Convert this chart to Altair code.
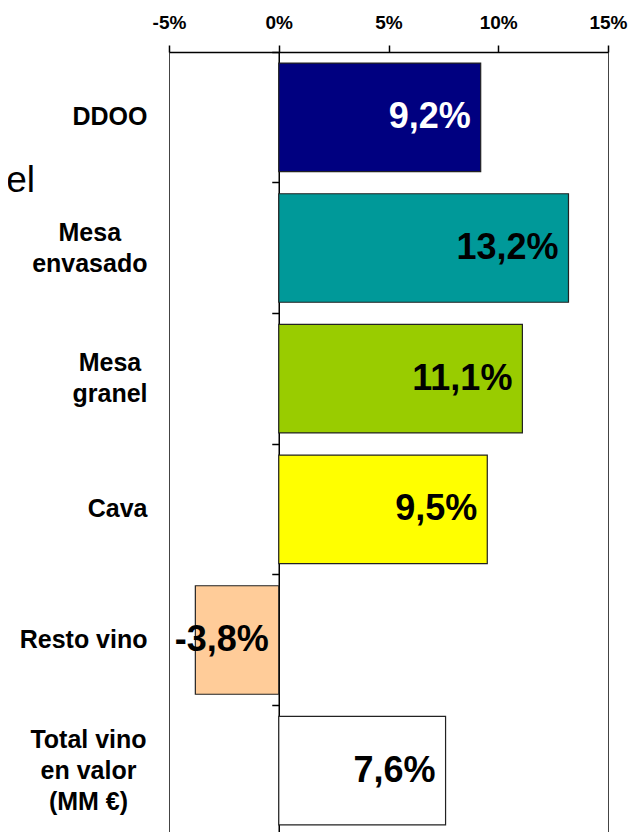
import altair as alt
import pandas as pd

categories = ["DDOO", "Mesa envasado", "Mesa granel", "Cava", "Resto vino",
              "Total vino en valor (MM €)"]
label_lines = [["DDOO"], ["Mesa", "envasado"], ["Mesa", "granel"], ["Cava"],
               ["Resto vino"], ["Total vino", "en valor", "(MM €)"]]
values = [9.2, 13.2, 11.1, 9.5, -3.8, 7.6]
bar_colors = ["#000080", "#009999", "#99CC00", "#FFFF00", "#FFCC99", "#FFFFFF"]
x_ticks = [-5, 0, 5, 10, 15]

FONT = "Liberation Sans"
LABEL_SIZE = 25
LINE_H = 31
LABEL_PAD = 22

# Arial/Liberation Sans Bold advance widths (per 1000 em) to centre multi-line labels
_W = {" ": 278, "M": 833, "e": 556, "s": 556, "a": 556, "n": 611, "v": 556,
      "d": 611, "o": 611, "g": 611, "r": 389, "l": 278, "T": 611, "t": 333,
      "i": 278, "(": 333, ")": 333, "€": 556, "D": 722, "O": 778, "C": 722,
      "R": 722}


def text_w(s):
    return sum(_W.get(c, 556) for c in s) / 1000 * LABEL_SIZE


df = pd.DataFrame({
    "cat": categories,
    "label": ["|".join(l) for l in label_lines],
    "v": values,
})
order = df["label"].tolist()

x_scale = alt.Scale(domain=[-5, 15], nice=False, zero=False)

multi = [l for l in label_lines if len(l) > 1]
label_offset = {
    "condition": [
        {"test": "length(split(datum.value, '|')) == 2", "value": -LINE_H / 2},
        {"test": "length(split(datum.value, '|')) == 3", "value": -LINE_H},
    ],
    "value": 0,
}
label_align = {
    "condition": {"test": "length(split(datum.value, '|')) > 1", "value": "center"},
    "value": "right",
}
label_padding = {
    "condition": [
        {"test": "datum.value == '%s'" % "|".join(l),
         "value": round(LABEL_PAD + max(text_w(s) for s in l) / 2, 1)}
        for l in multi
    ],
    "value": LABEL_PAD,
}

bars = alt.Chart(df).mark_bar(stroke="#222222", strokeWidth=1.2).encode(
    y=alt.Y("label:N", sort=order,
            scale=alt.Scale(paddingInner=0.17, paddingOuter=0.085),
            axis=alt.Axis(orient="left", title=None, domain=False, ticks=False,
                          tickSize=0, labelExpr="split(datum.label, '|')",
                          labelAlign=label_align, labelBaseline="middle",
                          labelFont=FONT, labelFontSize=LABEL_SIZE,
                          labelFontWeight="bold", labelColor="black",
                          labelLineHeight=LINE_H, labelPadding=label_padding,
                          labelLimit=400, labelOffset=label_offset)),
    x=alt.X("v:Q", scale=x_scale,
            axis=alt.Axis(orient="top", title=None, values=x_ticks, grid=False,
                          labelExpr="datum.value + '%'", tickSize=7,
                          tickColor="black", tickWidth=1.5, domainColor="black",
                          domainWidth=1.5, labelFont=FONT, labelFontSize=19,
                          labelFontWeight="bold", labelColor="black",
                          labelPadding=13, labelFlush=False)),
    x2=alt.datum(0),
    color=alt.Color("label:N", scale=alt.Scale(domain=order, range=bar_colors),
                    legend=None),
)

texts = alt.Chart(df).transform_calculate(
    pos="max(datum.v, 0)",
    txt="replace(toString(datum.v), '.', ',') + '%'",
).mark_text(align="right", baseline="middle", dx=-10, font=FONT,
            fontSize=36, fontWeight="bold").encode(
    y=alt.Y("label:N", sort=order),
    x=alt.X("pos:Q", scale=x_scale),
    text="txt:N",
    color=alt.condition("datum.cat == 'DDOO'", alt.value("white"), alt.value("black")),
)

main = alt.layer(bars, texts)

zero_axis = alt.Chart(df).mark_point(opacity=0).encode(
    y=alt.Y("label:N", sort=order,
            scale=alt.Scale(type="band", paddingInner=0, paddingOuter=0),
            axis=alt.Axis(orient="left", title=None, labels=False, offset=-109.75,
                          domain=True, domainColor="black", domainWidth=1.5,
                          ticks=True, tickSize=7, tickColor="black", tickWidth=1.5,
                          bandPosition=0)),
    x=alt.datum(0, scale=x_scale),
)

side_text = alt.Chart(pd.DataFrame({"t": ["el"]})).mark_text(
    align="right", baseline="alphabetic", font=FONT, fontSize=37,
    color="black").encode(
    text="t:N",
    x=alt.value(-134),
    y=alt.value(140),
)

chart = alt.layer(main, zero_axis, side_text).resolve_scale(
    y="independent"
).properties(
    width=439, height=784,
    autosize=alt.AutoSizeParams(type="none"),
    padding={"left": 161, "top": 44, "right": 24, "bottom": 0},
).configure_view(stroke="#444444", strokeWidth=1)

chart.save("out.html", embed_options={"renderer": "svg", "actions": False})
